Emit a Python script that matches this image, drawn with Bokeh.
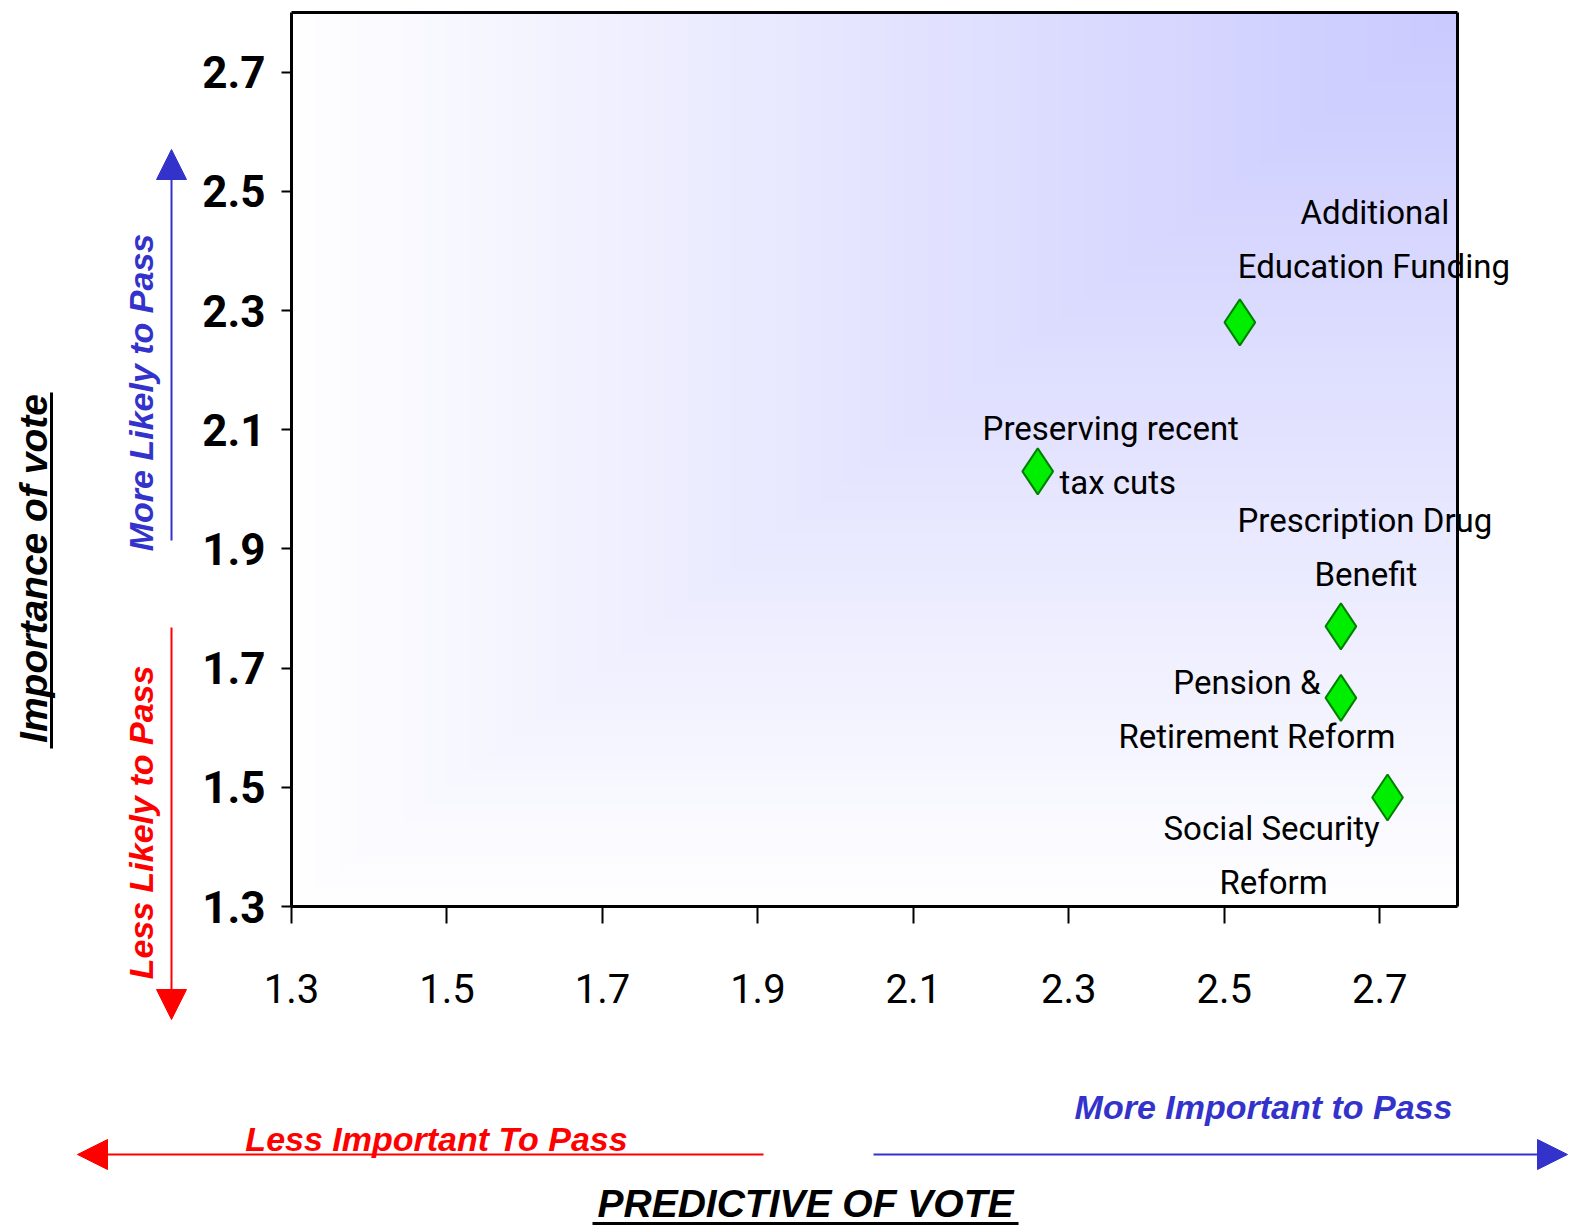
import numpy as np
from bokeh.plotting import figure
from bokeh.models import Label, Arrow, NormalHead, FixedTicker, PrintfTickFormatter, Range1d
from bokeh.embed import file_html
from bokeh.resources import INLINE

# ---------------- data ----------------
issue_lines = [
    ["Additional", "Education Funding"],
    ["Preserving recent", "tax cuts"],
    ["Prescription Drug", "Benefit"],
    ["Pension &", "Retirement Reform"],
    ["Social Security", "Reform"],
]
predictive = [2.52, 2.26, 2.65, 2.65, 2.71]      # x: predictive of vote
importance = [2.28, 2.03, 1.77, 1.65, 1.483]     # y: importance of vote
x_ticks = [1.3, 1.5, 1.7, 1.9, 2.1, 2.3, 2.5, 2.7]
y_ticks = [1.3, 1.5, 1.7, 1.9, 2.1, 2.3, 2.5, 2.7]
x_title = "PREDICTIVE OF VOTE"
y_title = "Importance of vote"
x_low, x_high = "Less Important To Pass", "More Important to Pass"
y_high, y_low = "More Likely to Pass", "Less Likely to Pass"

# label offsets (screen px, relative to each point; y positive = up)
label_offsets = [
    [(135, 110), (134, 56)],
    [(73, 43), (80, -11)],
    [(24, 106), (25, 52)],
    [(-94, 15), (-84, -39)],
    [(-116, -31), (-114, -85)],
]

# ---------------- layout ----------------
W, H = 1571, 1228
F_L, F_R, F_T, F_B = 291, 1457, 12, 906     # plot-box edges in page px
XMIN, XMAX, YMIN, YMAX = 1.3, 2.8, 1.3, 2.8
XS = (F_R - F_L) / (XMAX - XMIN)
YS = (F_B - F_T) / (YMAX - YMIN)


def X(px):
    return XMIN + (px - F_L) / XS


def Y(py):
    return YMIN + (F_B - py) / YS


NARROW = "Roboto, 'DejaVu Sans Condensed', sans-serif"
SANS = "'Liberation Sans', Arial, sans-serif"
BLUE = "#3333cc"
RED = "#ff0000"

p = figure(width=W, height=H, output_backend="svg", toolbar_location=None, title=None,
           x_range=Range1d(X(0), X(W)), y_range=Range1d(Y(H), Y(0)),
           min_border_left=0, min_border_right=0, min_border_top=0, min_border_bottom=0)
p.background_fill_color = "white"
p.border_fill_color = "white"
p.outline_line_color = None
p.grid.visible = False

# gradient background: rectangular gradient from top-right corner
n = 300
u = np.linspace(0, 1, n)[None, :]        # 0 left -> 1 right
v = np.linspace(0, 1, n)[:, None]        # 0 bottom -> 1 top
t = np.maximum(1 - u, 1 - v)
c0 = np.array([202, 202, 255])
img = np.zeros((n, n), dtype=np.uint32)
view = img.view(dtype=np.uint8).reshape((n, n, 4))
for k in range(3):
    view[:, :, k] = (c0[k] + t * (255 - c0[k])).astype(np.uint8)
view[:, :, 3] = 255
p.image_rgba(image=[img], x=XMIN, y=YMIN, dw=XMAX - XMIN, dh=YMAX - YMIN)

# top and right box edges
p.segment(x0=[XMIN, XMAX], y0=[YMAX, YMIN], x1=[XMAX, XMAX], y1=[YMAX, YMAX],
          line_color="black", line_width=3)

# points
p.scatter(predictive, importance, marker="diamond", size=46,
          fill_color="#00ee00", line_color="#008000", line_width=2)

# point labels
for xi, yi, lines, offs in zip(predictive, importance, issue_lines, label_offsets):
    for txt, (dx, dy) in zip(lines, offs):
        p.add_layout(Label(x=xi, y=yi, x_offset=dx, y_offset=dy, text=txt,
                           text_align="center", text_baseline="middle",
                           text_font=NARROW, text_font_size="33px", text_color="black"))

# axes (drawn at fixed locations on the plot box)
p.xaxis.ticker = FixedTicker(ticks=x_ticks)
p.yaxis.ticker = FixedTicker(ticks=y_ticks)
p.xaxis.formatter = PrintfTickFormatter(format="%.1f")
p.yaxis.formatter = PrintfTickFormatter(format="%.1f")
p.xaxis.fixed_location = YMIN
p.yaxis.fixed_location = XMIN
p.xaxis.bounds = (XMIN, XMAX)
p.yaxis.bounds = (YMIN, YMAX)
for ax in (p.xaxis, p.yaxis):
    ax.axis_line_width = 3
    ax.axis_line_color = "black"
    ax.major_tick_line_width = 2
    ax.major_tick_line_color = "black"
    ax.minor_tick_line_color = None
    ax.major_tick_in = 0
p.xaxis.major_tick_out = 17
p.yaxis.major_tick_out = 10
p.xaxis.major_label_standoff = 50
p.yaxis.major_label_standoff = 16
p.xaxis.major_label_text_font = NARROW
p.xaxis.major_label_text_font_size = "40px"
p.yaxis.major_label_text_font = NARROW
p.yaxis.major_label_text_font_size = "44px"
p.yaxis.major_label_text_font_style = "bold"
p.xaxis.major_label_text_color = "black"
p.yaxis.major_label_text_color = "black"

# decorations: arrows
def arrow(x0, y0, x1, y1, color):
    p.add_layout(Arrow(x_start=X(x0), y_start=Y(y0), x_end=X(x1), y_end=Y(y1),
                       end=NormalHead(size=30, fill_color=color, line_color=color, line_width=1),
                       line_color=color, line_width=2))

arrow(171, 540, 171, 149, BLUE)
arrow(171, 627, 171, 1019, RED)
arrow(763, 1154, 77, 1154, RED)
arrow(873, 1154, 1567, 1154, BLUE)


def text(px, py, s, color, size, angle=0.0):
    p.add_layout(Label(x=X(px), y=Y(py), text=s, angle=angle, angle_units="deg",
                       text_align="center", text_baseline="middle",
                       text_font=SANS, text_font_size=size, text_font_style="bold italic",
                       text_color=color))

text(140, 392, y_high, BLUE, "34px", angle=90)
text(140, 822, y_low, RED, "34px", angle=90)
text(33, 568, y_title, "black", "39px", angle=90)
text(436, 1138, x_low, RED, "34px")
text(1263, 1106, x_high, BLUE, "34px")
text(805, 1203, x_title, "black", "39px")

# underlines of the axis titles
p.add_layout(Arrow(x_start=X(51), y_start=Y(392), x_end=X(51), y_end=Y(748), end=None,
                   line_color="black", line_width=3))
p.add_layout(Arrow(x_start=X(592), y_start=Y(1223), x_end=X(1018), y_end=Y(1223), end=None,
                   line_color="black", line_width=3))

open("out.html", "w").write(file_html(p, INLINE))
